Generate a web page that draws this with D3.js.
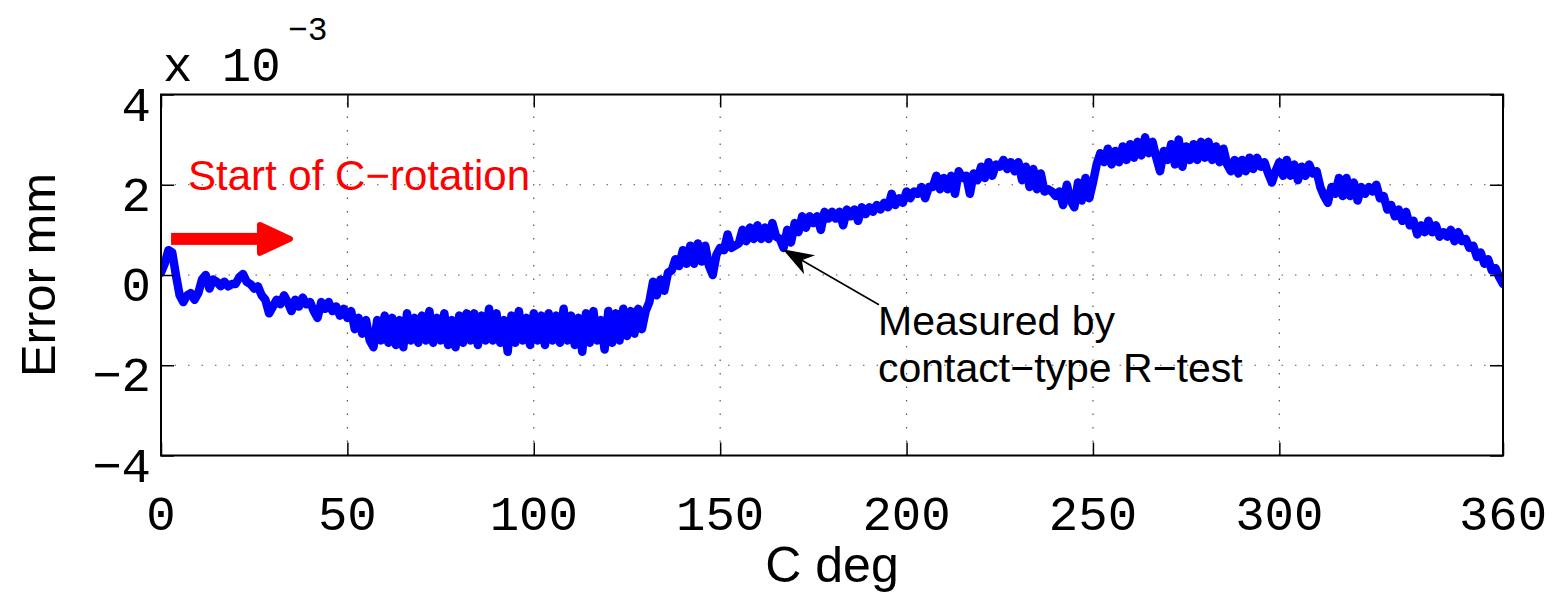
<!DOCTYPE html>
<html>
<head>
<meta charset="utf-8">
<script src="https://cdn.jsdelivr.net/npm/d3@7"></script>
<style>
  html, body { margin: 0; padding: 0; background: #fff; }
  svg { display: block; }
</style>
</head>
<body>
<svg id="chart" width="1553" height="595"></svg>
<script>
// ---- data (error in units of 1e-3 mm, sampled every 1 degree of C) ----
const angleStart = 0, angleEnd = 360, angleStep = 1;
const errorValues = [
  0.05, 0.25, 0.55, 0.5, 0.0, -0.45, -0.6, -0.45, -0.4, -0.55,
  -0.4, -0.1, 0.0, -0.3, -0.1, -0.15, -0.25, -0.15, -0.25, -0.2,
  -0.2, -0.05, 0.02, -0.15, -0.2, -0.3, -0.25, -0.45, -0.55, -0.85,
  -0.7, -0.55, -0.65, -0.45, -0.6, -0.8, -0.55, -0.7, -0.5, -0.65,
  -0.6, -0.8, -0.95, -0.6, -0.75, -0.6, -0.8, -0.7, -0.9, -0.75,
  -0.95, -0.8, -1.2, -0.95, -1.3, -1.0, -1.45, -1.6, -1.0, -1.45,
  -0.9, -1.5, -0.95, -1.55, -1.0, -1.6, -0.85, -1.45, -0.95, -1.5,
  -0.9, -1.45, -0.8, -1.5, -0.95, -1.45, -0.85, -1.55, -1.0, -1.6,
  -0.9, -1.5, -0.85, -1.45, -0.85, -1.55, -0.9, -1.45, -0.75, -1.45,
  -0.85, -1.5, -1.0, -1.7, -0.9, -1.5, -0.8, -1.45, -0.95, -1.55,
  -0.85, -1.45, -0.9, -1.55, -0.85, -1.45, -0.9, -1.5, -0.75, -1.45,
  -0.9, -1.55, -0.95, -1.7, -0.85, -1.5, -0.8, -1.45, -1.0, -1.65,
  -0.8, -1.5, -0.85, -1.45, -0.75, -1.35, -0.8, -1.3, -0.75, -1.2,
  -0.8, -0.6, -0.15, -0.45, -0.1, -0.35, 0.05, 0.1, 0.35, 0.2,
  0.55, 0.25, 0.65, 0.25, 0.7, 0.3, 0.65, 0.2, 0.0, 0.45,
  0.6, 0.55, 0.9, 0.6, 0.65, 0.7, 1.0, 0.75, 1.05, 0.8,
  1.1, 0.8, 1.05, 0.8, 1.15, 0.85, 0.8, 0.6, 1.0, 0.72,
  1.15, 0.95, 1.3, 1.05, 1.3, 1.15, 1.3, 1.0, 1.4, 1.25,
  1.4, 1.25, 1.4, 1.1, 1.45, 1.3, 1.45, 1.2, 1.5, 1.35,
  1.5, 1.4, 1.55, 1.45, 1.6, 1.5, 1.8, 1.55, 1.7, 1.6,
  1.85, 1.7, 1.85, 1.8, 1.95, 1.7, 1.95, 1.95, 2.2, 1.9,
  2.15, 1.9, 2.2, 1.8, 2.3, 2.15, 2.2, 1.8, 2.25, 2.1,
  2.4, 2.15, 2.5, 2.2, 2.45, 2.4, 2.55, 2.35, 2.5, 2.3,
  2.5, 2.1, 2.4, 1.95, 2.35, 1.9, 2.25, 1.85, 1.9, 1.85,
  1.75, 1.85, 1.55, 2.0, 1.65, 1.5, 2.05, 1.65, 2.15, 1.7,
  2.05, 2.45, 2.7, 2.5, 2.8, 2.45, 2.75, 2.5, 2.85, 2.55,
  2.9, 2.6, 2.95, 2.65, 3.05, 2.7, 2.95, 2.6, 2.3, 2.75,
  2.55, 2.9, 2.45, 3.0, 2.4, 2.85, 2.55, 2.9, 2.55, 2.95,
  2.6, 2.95, 2.55, 2.85, 2.5, 2.8, 2.45, 2.3, 2.55, 2.25,
  2.55, 2.3, 2.6, 2.35, 2.6, 2.4, 2.5, 2.25, 2.05, 2.3,
  2.5, 2.2, 2.55, 2.2, 2.45, 2.1, 2.4, 2.2, 2.45, 2.25,
  2.3, 1.95, 1.75, 1.6, 1.95, 1.8, 2.15, 1.75, 2.15, 1.75,
  2.05, 1.65, 1.95, 1.8, 1.95, 1.85, 2.0, 1.7, 1.75, 1.45,
  1.55, 1.3, 1.45, 1.2, 1.4, 1.1, 1.2, 0.9, 1.1, 0.95,
  1.2, 0.95, 1.1, 0.85, 0.95, 0.85, 1.0, 0.75, 0.95, 0.75,
  0.8, 0.6, 0.65, 0.4, 0.5, 0.25, 0.35, 0.1, 0.15, -0.05, -0.2
];
const xTicks = [0, 50, 100, 150, 200, 250, 300, 360];
const yTicks = [-4, -2, 0, 2, 4];
const xDomain = [0, 360];
const yDomain = [-4, 4];
const xLabel = "C deg";
const yLabel = "Error mm";
const exponentBase = "x 10";
const exponentPower = "\u22123";
const redNote = "Start of C\u2212rotation";
const blackNoteLines = ["Measured by", "contact\u2212type R\u2212test"];
// annotation anchor points in data units [deg, 1e-3 mm]
const redArrow = { from: [2.7, 0.8], to: [35.4, 0.8] };
const blackArrow = { from: [192.6, -0.66], to: [166.8, 0.57] };

// ---- layout ----
const svg = d3.select("#chart");
const L = 161, R = 1503, T = 94.5, B = 455.5;
const x = d3.scaleLinear().domain(xDomain).range([L, R]);
const y = d3.scaleLinear().domain(yDomain).range([B, T]);
const monoFont = "'Liberation Mono', 'Courier New', monospace";
const sansFont = "'Liberation Sans', Arial, Helvetica, sans-serif";

svg.append("rect").attr("width", 1553).attr("height", 595).attr("fill", "#fff");

// grid (dotted)
const grid = svg.append("g").attr("stroke", "#555").attr("stroke-width", 1.2)
  .attr("stroke-dasharray", "1.5,12");
xTicks.forEach(t => grid.append("line")
  .attr("x1", x(t)).attr("x2", x(t)).attr("y1", B).attr("y2", T));
yTicks.forEach(t => grid.append("line")
  .attr("x1", L).attr("x2", R).attr("y1", y(t)).attr("y2", y(t)));

// data line
const data = errorValues.map((v, i) => [angleStart + i * angleStep, v]);
svg.append("clipPath").attr("id", "clip").append("rect")
  .attr("x", L).attr("y", T).attr("width", R - L).attr("height", B - T);
svg.append("path")
  .datum(data)
  .attr("clip-path", "url(#clip)")
  .attr("fill", "none")
  .attr("stroke", "#0000ff")
  .attr("stroke-width", 8.5)
  .attr("stroke-linejoin", "round")
  .attr("stroke-linecap", "round")
  .attr("d", d3.line().x(d => x(d[0])).y(d => y(d[1])));

// axes with inward ticks on all four sides
const tickLen = 13;
const axB = d3.axisBottom(x).tickValues(xTicks).tickSize(-tickLen).tickFormat("");
const axT = d3.axisTop(x).tickValues(xTicks).tickSize(-tickLen).tickFormat("");
const axL = d3.axisLeft(y).tickValues(yTicks).tickSize(-tickLen).tickFormat("");
const axR = d3.axisRight(y).tickValues(yTicks).tickSize(-tickLen).tickFormat("");
[[axB, `translate(0,${B})`], [axT, `translate(0,${T})`],
 [axL, `translate(${L},0)`], [axR, `translate(${R},0)`]].forEach(([ax, tr]) => {
  const g = svg.append("g").attr("transform", tr).call(ax);
  g.select(".domain").remove();
  g.selectAll(".tick line").attr("stroke", "#000").attr("stroke-width", 1.5);
});
svg.append("rect").attr("x", L).attr("y", T).attr("width", R - L).attr("height", B - T)
  .attr("fill", "none").attr("stroke", "#000").attr("stroke-width", 2);

// tick labels
svg.append("g").selectAll("text").data(xTicks).join("text")
  .attr("x", d => x(d)).attr("y", 530)
  .attr("text-anchor", "middle")
  .attr("font-family", monoFont).attr("font-size", 49)
  .text(d => String(d));
svg.append("g").selectAll("text").data(yTicks).join("text")
  .attr("x", 151).attr("y", d => y(d) + 26)
  .attr("text-anchor", "end")
  .attr("font-family", monoFont).attr("font-size", 49)
  .text(d => (d < 0 ? "\u2212" + Math.abs(d) : String(d)));

// exponent
svg.append("text").attr("x", 163).attr("y", 81)
  .attr("font-family", monoFont).attr("font-size", 49).attr("xml:space", "preserve")
  .text(exponentBase);
svg.append("text").attr("x", 288).attr("y", 40)
  .attr("font-family", monoFont).attr("font-size", 33)
  .text(exponentPower);

// axis titles
svg.append("text").attr("x", (L + R) / 2).attr("y", 582)
  .attr("text-anchor", "middle").attr("font-family", sansFont).attr("font-size", 50)
  .text(xLabel);
svg.append("text")
  .attr("transform", `translate(55,${(T + B) / 2}) rotate(-90)`)
  .attr("text-anchor", "middle").attr("font-family", sansFont).attr("font-size", 49)
  .text(yLabel);

// red annotation
svg.append("text").attr("x", 188).attr("y", 190)
  .attr("font-family", sansFont).attr("font-size", 42).attr("fill", "#ff0000")
  .text(redNote);
{
  const x0 = x(redArrow.from[0]), x1 = x(redArrow.to[0]), yc = y(redArrow.from[1]);
  const headLen = 33, headHalf = 14, shaftHalf = 6;
  svg.append("rect").attr("x", x0).attr("y", yc - shaftHalf)
    .attr("width", x1 - headLen - x0 + 2).attr("height", 2 * shaftHalf).attr("fill", "#ff0000");
  svg.append("path")
    .attr("d", `M${x1 - headLen},${yc - headHalf} L${x1 - 3},${yc} L${x1 - headLen},${yc + headHalf} Z`)
    .attr("fill", "#ff0000").attr("stroke", "#ff0000").attr("stroke-width", 6)
    .attr("stroke-linejoin", "round");
}

// black annotation
{
  const tx = x(blackArrow.from[0]), ty = y(blackArrow.from[1]);
  const hx = x(blackArrow.to[0]), hy = y(blackArrow.to[1]);
  const dx = hx - tx, dy = hy - ty, len = Math.hypot(dx, dy);
  const ux = dx / len, uy = dy / len, nx = -uy, ny = ux;
  const hl = 31, hw = 11, notch = 22;
  svg.append("line").attr("x1", tx).attr("y1", ty)
    .attr("x2", hx - ux * notch).attr("y2", hy - uy * notch)
    .attr("stroke", "#000").attr("stroke-width", 1.6);
  const bx = hx - ux * hl, by = hy - uy * hl;
  svg.append("path")
    .attr("d", `M${hx},${hy} L${bx + nx * hw},${by + ny * hw} L${hx - ux * notch},${hy - uy * notch} L${bx - nx * hw},${by - ny * hw} Z`)
    .attr("fill", "#000");
  svg.append("g").selectAll("text").data(blackNoteLines).join("text")
    .attr("x", 878).attr("y", (d, i) => 335 + i * 47)
    .attr("font-family", sansFont).attr("font-size", 41).attr("fill", "#000")
    .text(d => d);
}
</script>
</body>
</html>
